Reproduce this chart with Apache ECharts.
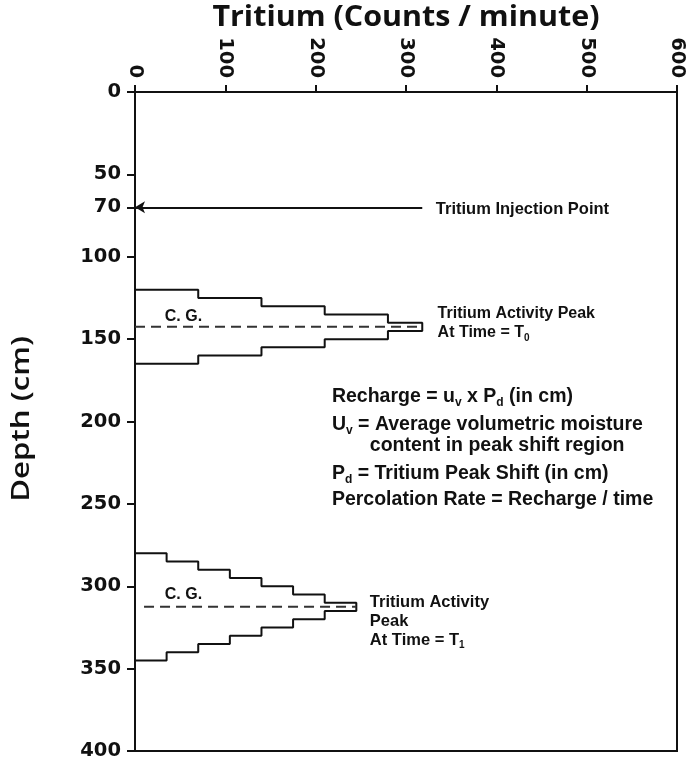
<!DOCTYPE html>
<html><head><meta charset="utf-8">
<script src="https://cdn.jsdelivr.net/npm/echarts@6/dist/echarts.min.js"></script>
<style>html,body{margin:0;padding:0;background:#fff}#c{width:689px;height:763px}</style>
</head><body><div id="c"></div>
<script>
// ---- data ----
const xTicks = [0, 100, 200, 300, 400, 500, 600];
const depthTicks = [0, 50, 70, 100, 150, 200, 250, 300, 350, 400];
// tritium profile at time T0 (5 cm depth bins)
const t0Edges = [120, 125, 130, 135, 140, 145, 150, 155, 160, 165];
const t0Counts = [70, 140, 210, 280, 318, 280, 210, 140, 70];
// tritium profile at time T1
const t1Edges = [280, 285, 290, 295, 300, 305, 310, 315, 320, 325, 330, 335, 340, 345];
const t1Counts = [35, 70, 105, 140, 175, 210, 245, 210, 175, 140, 105, 70, 35];
// centre of gravity lines
const cgDepths = [142.5, 312.5];
const cgFrom = [0, 10];
const cgTo = [318, 245];
// injection point
const injectionDepth = 70;
const injectionFrom = 318;

const INK = '#111';
const chart = echarts.init(document.getElementById('c'), null, {renderer: 'canvas'});

function outline(edges, counts) {
  const pts = [[0, edges[0]]];
  counts.forEach((c, i) => { pts.push([c, edges[i]]); pts.push([c, edges[i + 1]]); });
  pts.push([0, edges[edges.length - 1]]);
  return pts;
}

const tickFont = {color: INK, fontFamily: 'DejaVu Sans', fontWeight: 'bold', fontSize: 19.5};

const series = [
  {type: 'line', name: 'T0', data: outline(t0Edges, t0Counts), showSymbol: false, silent: true,
   lineStyle: {color: INK, width: 2}},
  {type: 'line', name: 'T1', data: outline(t1Edges, t1Counts), showSymbol: false, silent: true,
   lineStyle: {color: INK, width: 2}},
];
cgDepths.forEach((d, i) => {
  series.push({type: 'line', data: [[cgFrom[i], d], [cgTo[i], d]], showSymbol: false, silent: true,
    lineStyle: {color: '#333', width: 2, type: [10, 6]}});
});
series.push({type: 'line', data: [], silent: true,
  markLine: {silent: true, symbol: ['none', 'arrow'], symbolSize: [9, 10],
    label: {show: false}, lineStyle: {color: INK, width: 2, type: 'solid'},
    data: [[{coord: [injectionFrom, injectionDepth]}, {coord: [0, injectionDepth]}]]}});

chart.setOption({
  animation: false,
  grid: {left: 135, right: 12, top: 92, bottom: 12, show: true, borderColor: INK, borderWidth: 2},
  xAxis: {type: 'value', position: 'top', min: 0, max: 600, interval: 100,
    axisLine: {show: true, lineStyle: {color: INK, width: 2}},
    axisTick: {show: true, length: 7, lineStyle: {color: INK, width: 2}},
    axisLabel: Object.assign({rotate: -90, margin: 14, customValues: xTicks}, tickFont),
    splitLine: {show: false}},
  yAxis: {type: 'value', inverse: true, min: 0, max: 400,
    axisLine: {show: true, lineStyle: {color: INK, width: 2}},
    axisTick: {show: true, length: 8, customValues: depthTicks, lineStyle: {color: INK, width: 2}},
    axisLabel: Object.assign({margin: 14, customValues: depthTicks}, tickFont),
    splitLine: {show: false}},
  series: series
});

// ---- annotations anchored in data space ----
const P = (x, y) => chart.convertToPixel({gridIndex: 0}, [x, y]);
const annFont = {fontFamily: 'Liberation Sans', fontWeight: 'bold', fill: INK};
const sub = (fs) => ({fontSize: fs, fontFamily: 'Liberation Sans', fontWeight: 'bold', fill: INK, verticalAlign: 'bottom', lineHeight: fs});
function note(x, y, text, fs) {
  const p = P(x, y);
  return {type: 'text', x: p[0], y: p[1], silent: true,
    style: Object.assign({text: text, fontSize: fs, textAlign: 'left', textVerticalAlign: 'middle',
      lineHeight: fs + 4, rich: {s: sub(Math.round(fs * 0.62)), n: {fontSize: fs, fontFamily: 'Liberation Sans', fontWeight: 'bold', fill: INK, lineHeight: fs + 4}}}, annFont)};
}

const graphics = [
  {type: 'text', x: 406, y: 18, scaleX: 1.05, silent: true,
   style: {text: 'Tritium (Counts / minute)', fontFamily: 'Open Sans', fontWeight: 'bold', fontSize: 29,
     fill: INK, textAlign: 'center', textVerticalAlign: 'middle'}},
  {type: 'text', x: 22, y: 419, rotation: Math.PI / 2, scaleX: 1.2, silent: true,
   style: {text: 'Depth (cm)', fontFamily: 'Open Sans', fontWeight: 600, fontSize: 26,
     fill: INK, textAlign: 'center', textVerticalAlign: 'middle'}},
  note(333, 71.5, 'Tritium Injection Point', 16.5),
  note(335, 134.2, 'Tritium Activity Peak', 16),
  note(335, 146.3, '{n|At Time = T}{s|0}', 16),
  note(33, 136.5, 'C. G.', 16),
  note(33, 305.3, 'C. G.', 16),
  note(260, 309.6, 'Tritium Activity', 16.5),
  note(260, 321.1, 'Peak', 16.5),
  note(260, 332.6, '{n|At Time = T}{s|1}', 16.5),
  note(218, 185.1, '{n|Recharge = u}{s|v}{n| x P}{s|d}{n| (in cm)}', 19.5),
  note(218, 202.1, '{n|U}{s|v}{n| = Average volumetric moisture}', 19.5),
  note(260, 214.9, 'content in peak shift region', 19.5),
  note(218, 231.9, '{n|P}{s|d}{n| = Tritium Peak Shift (in cm)}', 19.5),
  note(218, 247.6, 'Percolation Rate = Recharge / time', 19.5)
];
chart.setOption({graphic: graphics});
</script>
</body></html>
